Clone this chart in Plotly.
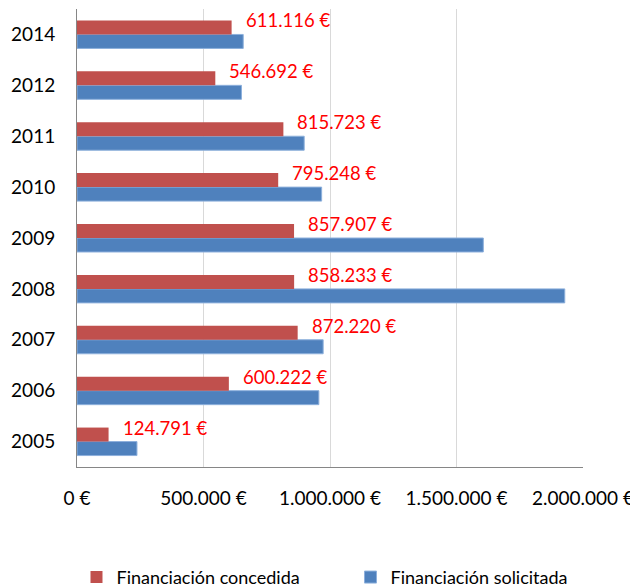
import plotly.graph_objects as go

years = ["2005", "2006", "2007", "2008", "2009", "2010", "2011", "2012", "2014"]
concedida = [124791, 600222, 872220, 858233, 857907, 795248, 815723, 546692, 611116]
solicitada = [237000, 956000, 973000, 1928000, 1606000, 967000, 898000, 650000, 657000]
concedida_labels = ["124.791 €", "600.222 €", "872.220 €", "858.233 €", "857.907 €",
                    "795.248 €", "815.723 €", "546.692 €", "611.116 €"]
tick_vals = [0, 500000, 1000000, 1500000, 2000000]
tick_text = ["0 €", "500.000 €", "1.000.000 €", "1.500.000 €", "2.000.000 €"]

FONT = "Lato"
pos = list(range(len(years)))

fig = go.Figure()
fig.add_trace(go.Bar(
    y=pos, x=solicitada, orientation="h", name="Financiación solicitada",
    marker=dict(color="#4F81BD", line=dict(color="#8DB0DC", width=1)),
))
fig.add_trace(go.Bar(
    y=pos, x=concedida, orientation="h", name="Financiación concedida",
    marker=dict(color="#C0504D", line=dict(color="#C0504D", width=0)),
))

for yv, xv, lab in zip(pos, concedida, concedida_labels):
    fig.add_annotation(
        x=xv, y=yv, text=lab, showarrow=False, xanchor="left", yanchor="middle",
        xshift=12, yshift=14, font=dict(family=FONT, size=18.5, color="#FF0000"),
    )

# page body has an 8px default margin, so the figure is 8px smaller and offset
fig.update_layout(
    width=630, height=580,
    margin=dict(l=69, r=55, t=1, b=121, pad=0, autoexpand=False),
    paper_bgcolor="white", plot_bgcolor="white",
    barmode="group", bargap=0.45, bargroupgap=0,
    font=dict(family=FONT, size=18, color="#000000"),
    showlegend=True,
    legend=dict(orientation="h", x=-0.001, xanchor="left", y=-0.241, yanchor="middle",
                traceorder="reversed", font=dict(family=FONT, size=18),
                itemwidth=30, entrywidth=229, entrywidthmode="pixels"),
    xaxis=dict(range=[0, 2000000], tickvals=tick_vals, ticktext=tick_text,
               showgrid=True, gridcolor="#D9D9D9", gridwidth=1,
               showline=True, linecolor="#868686", linewidth=1,
               ticks="", zeroline=False, ticklabelstandoff=14, automargin=False,
               tickfont=dict(family=FONT, size=19)),
    yaxis=dict(range=[-0.5, len(years) - 0.5], tickvals=pos, ticktext=years,
               showgrid=False, showline=True, linecolor="#868686", linewidth=1,
               zeroline=False, ticks="", ticklabelstandoff=17, automargin=False,
               tickfont=dict(family=FONT, size=19)),
)

fig.write_html("out.html")
